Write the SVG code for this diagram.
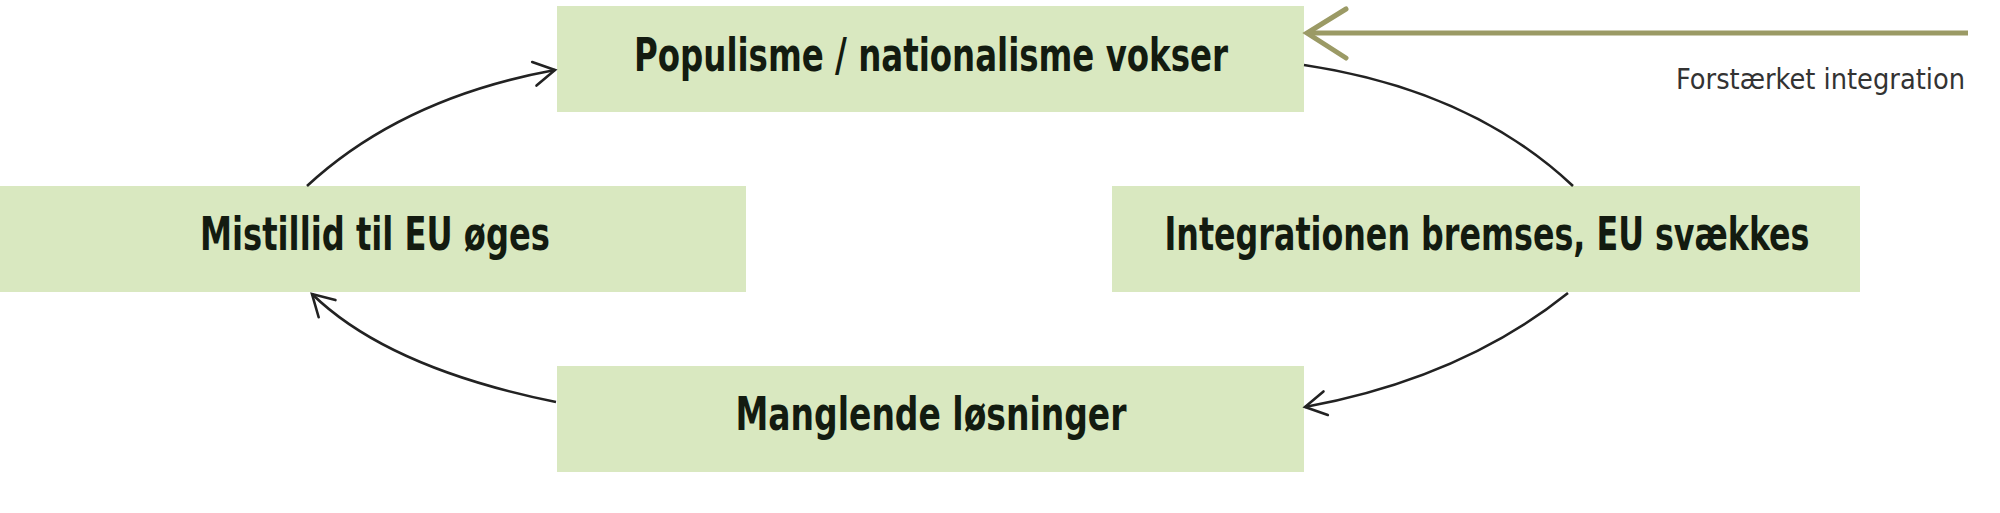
<svg xmlns="http://www.w3.org/2000/svg" width="2000" height="513" viewBox="0 0 2000 513">
<style>
.box{fill:#d9e8c0}
.lbl{font-family:"Liberation Sans Narrow","DejaVu Sans Condensed","Liberation Sans",sans-serif;font-weight:bold;font-size:47px;fill:#131b10;text-anchor:middle}
.note{font-family:"Liberation Sans Narrow","DejaVu Sans Condensed","Liberation Sans",sans-serif;font-size:29px;fill:#333}
.con{fill:none;stroke:#222;stroke-width:2.6}
</style>
<defs>
<marker id="ah" markerUnits="userSpaceOnUse" viewBox="-24 -15 28 30" refX="0" refY="0" markerWidth="28" markerHeight="30" orient="auto">
<path d="M-21,-12 L0,0 L-21,12" fill="none" stroke="#222" stroke-width="2.6" stroke-linecap="round" stroke-linejoin="miter"/>
</marker>
</defs>
<rect width="2000" height="513" fill="#fff"/>
<g id="n-populisme"><rect class="box" x="557" y="6" width="747" height="106"/><text class="lbl" x="931" y="71" textLength="594" lengthAdjust="spacingAndGlyphs">Populisme / nationalisme vokser</text></g>
<g id="n-mistillid"><rect class="box" x="0" y="186" width="746" height="106"/><text class="lbl" x="375" y="250" textLength="350" lengthAdjust="spacingAndGlyphs">Mistillid til EU øges</text></g>
<g id="n-integrationen"><rect class="box" x="1112" y="186" width="748" height="106"/><text class="lbl" x="1487" y="250" textLength="645" lengthAdjust="spacingAndGlyphs">Integrationen bremses, EU svækkes</text></g>
<g id="n-manglende"><rect class="box" x="557" y="366" width="747" height="106"/><text class="lbl" x="931" y="430" textLength="391" lengthAdjust="spacingAndGlyphs">Manglende løsninger</text></g>
<g id="connectors">
<path class="con" d="M307,186 Q402,98 555,70" marker-end="url(#ah)"/>
<path class="con" d="M1304,65 Q1471,90 1573,186"/>
<path class="con" d="M1568,293 Q1462,378 1305,407" marker-end="url(#ah)"/>
<path class="con" d="M556,402 Q388,368 312,294" marker-end="url(#ah)"/>
<g id="forstaerket">
<path d="M1968,33 L1307,33" fill="none" stroke="#9b9a65" stroke-width="5"/>
<path d="M1346,9 L1307,33 L1346,58" fill="none" stroke="#9b9a65" stroke-width="5" stroke-linecap="round"/>
<text class="note" x="1676" y="89" textLength="289" lengthAdjust="spacingAndGlyphs">Forstærket integration</text>
</g>
</g>
</svg>
